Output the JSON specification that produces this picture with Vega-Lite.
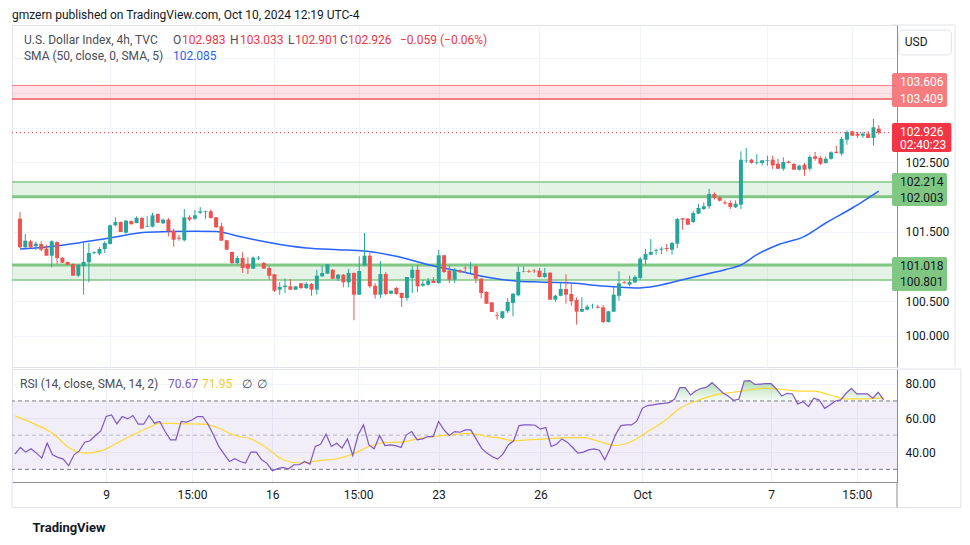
{
"$schema":"https://vega.github.io/schema/vega-lite/v6.json",
"background":"white",
"padding":{"left":10,"top":8,"right":5,"bottom":2},
"spacing":0,
"data":{"values":[{}]},
"config":{"view":{"stroke":"#e0e3eb"},"font":"Roboto","axis":{"labelFont":"Roboto","labelColor":"#131722","labelFontSize":12,"gridColor":"#f0f3fa","gridWidth":1,"tickSize":0,"ticks":false,"title":null}},
"datasets":{
"candles":[
{"i":0,"o":101.686,"h":101.782,"l":101.264,"c":101.274},{"i":1,"o":101.274,"h":101.465,"l":101.254,"c":101.369},{"i":2,"o":101.360,"h":101.383,"l":101.264,"c":101.274},{"i":3,"o":101.288,"h":101.355,"l":101.235,"c":101.326},{"i":4,"o":101.321,"h":101.360,"l":101.216,"c":101.239},{"i":5,"o":101.254,"h":101.311,"l":101.153,"c":101.153},{"i":6,"o":101.153,"h":101.375,"l":100.986,"c":101.360},{"i":7,"o":101.350,"h":101.360,"l":101.038,"c":101.120},{"i":8,"o":101.120,"h":101.134,"l":101.048,"c":101.052},{"i":9,"o":101.062,"h":101.069,"l":101.019,"c":101.023},
{"i":10,"o":101.033,"h":101.043,"l":100.865,"c":100.865},{"i":11,"o":100.865,"h":101.023,"l":100.846,"c":101.023},{"i":12,"o":101.004,"h":101.346,"l":100.591,"c":101.062},{"i":13,"o":101.058,"h":101.336,"l":100.769,"c":101.192},{"i":14,"o":101.188,"h":101.216,"l":101.182,"c":101.202},{"i":15,"o":101.182,"h":101.274,"l":101.159,"c":101.249},{"i":16,"o":101.249,"h":101.360,"l":101.192,"c":101.336},{"i":17,"o":101.321,"h":101.600,"l":101.317,"c":101.591},{"i":18,"o":101.591,"h":101.706,"l":101.576,"c":101.638},{"i":19,"o":101.638,"h":101.645,"l":101.494,"c":101.494},
{"i":20,"o":101.484,"h":101.667,"l":101.470,"c":101.657},{"i":21,"o":101.653,"h":101.660,"l":101.605,"c":101.605},{"i":22,"o":101.624,"h":101.721,"l":101.620,"c":101.696},{"i":23,"o":101.696,"h":101.710,"l":101.542,"c":101.542},{"i":24,"o":101.571,"h":101.721,"l":101.566,"c":101.581},{"i":25,"o":101.571,"h":101.772,"l":101.562,"c":101.735},{"i":26,"o":101.754,"h":101.764,"l":101.628,"c":101.628},{"i":27,"o":101.620,"h":101.686,"l":101.610,"c":101.672},{"i":28,"o":101.672,"h":101.696,"l":101.432,"c":101.509},{"i":29,"o":101.513,"h":101.542,"l":101.282,"c":101.383},
{"i":30,"o":101.412,"h":101.455,"l":101.369,"c":101.398},{"i":31,"o":101.375,"h":101.826,"l":101.360,"c":101.706},{"i":32,"o":101.706,"h":101.735,"l":101.648,"c":101.672},{"i":33,"o":101.686,"h":101.811,"l":101.667,"c":101.735},{"i":34,"o":101.772,"h":101.854,"l":101.754,"c":101.793},{"i":35,"o":101.787,"h":101.801,"l":101.686,"c":101.797},{"i":36,"o":101.793,"h":101.818,"l":101.689,"c":101.696},{"i":37,"o":101.706,"h":101.710,"l":101.552,"c":101.562},{"i":38,"o":101.576,"h":101.628,"l":101.365,"c":101.369},{"i":39,"o":101.375,"h":101.379,"l":101.235,"c":101.239},
{"i":40,"o":101.206,"h":101.213,"l":101.033,"c":101.048},{"i":41,"o":101.048,"h":101.148,"l":101.026,"c":101.120},{"i":42,"o":101.120,"h":101.202,"l":100.904,"c":100.976},{"i":43,"o":101.033,"h":101.130,"l":100.889,"c":100.966},{"i":44,"o":100.966,"h":101.144,"l":100.961,"c":101.124},{"i":45,"o":101.112,"h":101.148,"l":101.091,"c":101.124},{"i":46,"o":101.048,"h":101.062,"l":100.961,"c":100.966},{"i":47,"o":100.976,"h":101.009,"l":100.807,"c":100.865},{"i":48,"o":100.885,"h":100.889,"l":100.630,"c":100.649},{"i":49,"o":100.663,"h":100.774,"l":100.591,"c":100.702},
{"i":50,"o":100.702,"h":100.827,"l":100.616,"c":100.721},{"i":51,"o":100.712,"h":100.817,"l":100.663,"c":100.663},{"i":52,"o":100.663,"h":100.716,"l":100.659,"c":100.712},{"i":53,"o":100.755,"h":100.759,"l":100.673,"c":100.687},{"i":54,"o":100.687,"h":100.774,"l":100.673,"c":100.745},{"i":55,"o":100.745,"h":100.759,"l":100.577,"c":100.663},{"i":56,"o":100.663,"h":100.951,"l":100.591,"c":100.865},{"i":57,"o":100.856,"h":101.009,"l":100.846,"c":100.904},{"i":58,"o":100.894,"h":101.033,"l":100.889,"c":101.029},{"i":59,"o":100.951,"h":100.961,"l":100.817,"c":100.821},
{"i":60,"o":100.821,"h":100.889,"l":100.788,"c":100.879},{"i":61,"o":100.879,"h":100.889,"l":100.697,"c":100.769},{"i":62,"o":100.769,"h":100.966,"l":100.697,"c":100.904},{"i":63,"o":100.904,"h":100.911,"l":100.222,"c":100.591},{"i":64,"o":100.591,"h":101.144,"l":100.587,"c":100.932},{"i":65,"o":101.015,"h":101.480,"l":101.000,"c":101.153},{"i":66,"o":101.153,"h":101.192,"l":100.687,"c":100.712},{"i":67,"o":100.721,"h":100.759,"l":100.533,"c":100.591},{"i":68,"o":100.591,"h":101.076,"l":100.543,"c":100.889},{"i":69,"o":100.889,"h":100.918,"l":100.582,"c":100.601},
{"i":70,"o":100.605,"h":100.649,"l":100.601,"c":100.649},{"i":71,"o":100.687,"h":100.702,"l":100.591,"c":100.601},{"i":72,"o":100.615,"h":100.622,"l":100.414,"c":100.543},{"i":73,"o":100.543,"h":100.846,"l":100.504,"c":100.846},{"i":74,"o":100.832,"h":101.000,"l":100.615,"c":100.951},{"i":75,"o":100.951,"h":101.015,"l":100.630,"c":100.712},{"i":76,"o":100.721,"h":100.807,"l":100.702,"c":100.750},{"i":77,"o":100.735,"h":100.832,"l":100.721,"c":100.793},{"i":78,"o":100.793,"h":100.846,"l":100.759,"c":100.759},{"i":79,"o":100.759,"h":101.239,"l":100.750,"c":101.159},
{"i":80,"o":101.159,"h":101.163,"l":100.904,"c":100.918},{"i":81,"o":100.937,"h":101.015,"l":100.759,"c":100.807},{"i":82,"o":100.807,"h":100.976,"l":100.759,"c":100.951},{"i":83,"o":100.942,"h":100.954,"l":100.904,"c":100.914},{"i":84,"o":100.980,"h":101.000,"l":100.904,"c":100.971},{"i":85,"o":100.971,"h":101.062,"l":100.904,"c":100.980},{"i":86,"o":101.000,"h":101.015,"l":100.759,"c":100.821},{"i":87,"o":100.821,"h":100.832,"l":100.539,"c":100.615},{"i":88,"o":100.630,"h":100.640,"l":100.457,"c":100.461},{"i":89,"o":100.481,"h":100.486,"l":100.342,"c":100.342},
{"i":90,"o":100.294,"h":100.342,"l":100.231,"c":100.284},{"i":91,"o":100.255,"h":100.356,"l":100.241,"c":100.352},{"i":92,"o":100.352,"h":100.543,"l":100.327,"c":100.486},{"i":93,"o":100.471,"h":100.615,"l":100.280,"c":100.605},{"i":94,"o":100.582,"h":101.000,"l":100.568,"c":100.918},{"i":95,"o":100.922,"h":101.000,"l":100.914,"c":100.928},{"i":96,"o":100.932,"h":100.951,"l":100.904,"c":100.922},{"i":97,"o":100.937,"h":100.961,"l":100.904,"c":100.928},{"i":98,"o":100.937,"h":100.976,"l":100.838,"c":100.846},{"i":99,"o":100.846,"h":100.976,"l":100.832,"c":100.904},
{"i":100,"o":100.908,"h":100.914,"l":100.519,"c":100.519},{"i":101,"o":100.519,"h":100.591,"l":100.486,"c":100.576},{"i":102,"o":100.576,"h":100.759,"l":100.568,"c":100.673},{"i":103,"o":100.673,"h":100.885,"l":100.461,"c":100.591},{"i":104,"o":100.601,"h":100.759,"l":100.432,"c":100.496},{"i":105,"o":100.514,"h":100.553,"l":100.159,"c":100.346},{"i":106,"o":100.346,"h":100.558,"l":100.342,"c":100.385},{"i":107,"o":100.375,"h":100.447,"l":100.366,"c":100.418},{"i":108,"o":100.428,"h":100.461,"l":100.389,"c":100.432},{"i":109,"o":100.418,"h":100.447,"l":100.389,"c":100.404},
{"i":110,"o":100.409,"h":100.442,"l":100.183,"c":100.197},{"i":111,"o":100.197,"h":100.360,"l":100.190,"c":100.352},{"i":112,"o":100.346,"h":100.712,"l":100.342,"c":100.591},{"i":113,"o":100.576,"h":100.928,"l":100.504,"c":100.755},{"i":114,"o":100.769,"h":100.784,"l":100.752,"c":100.755},{"i":115,"o":100.735,"h":100.865,"l":100.712,"c":100.774},{"i":116,"o":100.769,"h":100.870,"l":100.759,"c":100.846},{"i":117,"o":100.832,"h":101.134,"l":100.807,"c":101.110},{"i":118,"o":101.095,"h":101.249,"l":101.023,"c":101.177},{"i":119,"o":101.167,"h":101.393,"l":101.159,"c":101.206},
{"i":120,"o":101.225,"h":101.254,"l":101.167,"c":101.235},{"i":121,"o":101.239,"h":101.278,"l":101.177,"c":101.254},{"i":122,"o":101.264,"h":101.321,"l":101.216,"c":101.249},{"i":123,"o":101.239,"h":101.350,"l":101.167,"c":101.336},{"i":124,"o":101.326,"h":101.696,"l":101.264,"c":101.682},{"i":125,"o":101.692,"h":101.696,"l":101.527,"c":101.672},{"i":126,"o":101.686,"h":101.696,"l":101.599,"c":101.599},{"i":127,"o":101.638,"h":101.801,"l":101.624,"c":101.768},{"i":128,"o":101.758,"h":101.898,"l":101.754,"c":101.840},{"i":129,"o":101.826,"h":101.922,"l":101.811,"c":101.865},
{"i":130,"o":101.865,"h":102.114,"l":101.830,"c":102.042},{"i":131,"o":102.042,"h":102.066,"l":101.960,"c":101.984},{"i":132,"o":101.994,"h":102.009,"l":101.934,"c":101.945},{"i":133,"o":101.922,"h":101.951,"l":101.888,"c":101.908},{"i":134,"o":101.912,"h":101.951,"l":101.826,"c":101.855},{"i":135,"o":101.850,"h":101.951,"l":101.840,"c":101.902},{"i":136,"o":101.888,"h":102.657,"l":101.826,"c":102.536},{"i":137,"o":102.522,"h":102.705,"l":102.489,"c":102.528},{"i":138,"o":102.536,"h":102.550,"l":102.478,"c":102.489},{"i":139,"o":102.493,"h":102.618,"l":102.464,"c":102.503},
{"i":140,"o":102.489,"h":102.527,"l":102.450,"c":102.527},{"i":141,"o":102.517,"h":102.594,"l":102.450,"c":102.527},{"i":142,"o":102.536,"h":102.594,"l":102.402,"c":102.455},{"i":143,"o":102.478,"h":102.550,"l":102.402,"c":102.406},{"i":144,"o":102.406,"h":102.571,"l":102.378,"c":102.503},{"i":145,"o":102.507,"h":102.522,"l":102.484,"c":102.489},{"i":146,"o":102.474,"h":102.489,"l":102.392,"c":102.392},{"i":147,"o":102.392,"h":102.464,"l":102.378,"c":102.450},{"i":148,"o":102.464,"h":102.489,"l":102.305,"c":102.392},{"i":149,"o":102.406,"h":102.599,"l":102.378,"c":102.575},
{"i":150,"o":102.585,"h":102.647,"l":102.522,"c":102.550},{"i":151,"o":102.561,"h":102.585,"l":102.460,"c":102.478},{"i":152,"o":102.489,"h":102.585,"l":102.478,"c":102.550},{"i":153,"o":102.550,"h":102.657,"l":102.536,"c":102.643},{"i":154,"o":102.651,"h":102.738,"l":102.628,"c":102.633},{"i":155,"o":102.623,"h":102.863,"l":102.594,"c":102.834},{"i":156,"o":102.824,"h":102.960,"l":102.752,"c":102.935},{"i":157,"o":102.945,"h":102.954,"l":102.878,"c":102.882},{"i":158,"o":102.911,"h":102.935,"l":102.849,"c":102.882},{"i":159,"o":102.882,"h":102.935,"l":102.849,"c":102.911},
{"i":160,"o":102.911,"h":102.945,"l":102.849,"c":102.849},{"i":161,"o":102.849,"h":103.123,"l":102.738,"c":103.003},{"i":162,"o":102.983,"h":103.033,"l":102.901,"c":102.926}
],
"sma":[
{"i":0,"v":101.249},{"i":5,"v":101.278},{"i":11,"v":101.336},{"i":17,"v":101.408},{"i":24,"v":101.490},{"i":33,"v":101.504},{"i":37,"v":101.502},{"i":41,"v":101.437},{"i":47,"v":101.343},{"i":54,"v":101.264},{"i":60,"v":101.239},{"i":65,"v":101.221},{"i":71,"v":101.144},{"i":77,"v":101.023},{"i":83,"v":100.928},{"i":89,"v":100.831},{"i":94,"v":100.784},{"i":98,"v":100.774},{"i":104,"v":100.759},{"i":110,"v":100.716},{"i":116,"v":100.687},{"i":120,"v":100.716},{"i":124,"v":100.788},{"i":129,"v":100.879},{"i":133,"v":100.951},{"i":136,"v":101.019},{"i":139,"v":101.167},{"i":143,"v":101.311},{"i":148,"v":101.432},{"i":152,"v":101.624},{"i":157,"v":101.840},{"i":162,"v":102.085}
],
"rsi":[
{"i":0,"r":38.9},{"i":1,"r":42.8},{"i":2,"r":40.1},{"i":3,"r":42.0},{"i":4,"r":39.5},{"i":5,"r":36.6},{"i":6,"r":45.3},{"i":7,"r":38.5},{"i":8,"r":37.0},{"i":9,"r":36.0},{"i":10,"r":32.1},{"i":11,"r":38.5},{"i":12,"r":40.8},{"i":13,"r":45.9},{"i":14,"r":46.7},{"i":15,"r":49.8},{"i":16,"r":52.5},{"i":17,"r":60.9},{"i":18,"r":61.8},{"i":19,"r":56.6},{"i":20,"r":60.9},{"i":21,"r":59.5},{"i":22,"r":61.5},{"i":23,"r":56.4},{"i":24,"r":56.4},{"i":25,"r":61.5},{"i":26,"r":57.0},{"i":27,"r":58.0},{"i":28,"r":52.1},{"i":29,"r":47.3},{"i":30,"r":47.3},{"i":31,"r":58.0},{"i":32,"r":57.6},{"i":33,"r":58.9},{"i":34,"r":60.9},{"i":35,"r":60.9},{"i":36,"r":56.4},{"i":37,"r":50.2},{"i":38,"r":43.4},{"i":39,"r":38.9},{"i":40,"r":34.6},{"i":41,"r":36.2},{"i":42,"r":34.6},{"i":43,"r":33.7},{"i":44,"r":40.1},{"i":45,"r":40.1},{"i":46,"r":35.6},{"i":47,"r":33.5},{"i":48,"r":29.2},{"i":49,"r":30.4},{"i":50,"r":31.1},{"i":51,"r":30.2},{"i":52,"r":32.7},{"i":53,"r":32.7},{"i":54,"r":34.6},{"i":55,"r":33.1},{"i":56,"r":43.4},{"i":57,"r":44.7},{"i":58,"r":50.6},{"i":59,"r":43.4},{"i":60,"r":45.3},{"i":61,"r":42.4},{"i":62,"r":47.8},{"i":63,"r":38.1},{"i":64,"r":50.2},{"i":65,"r":56.0},{"i":66,"r":44.3},{"i":67,"r":42.0},{"i":68,"r":49.8},{"i":69,"r":43.9},{"i":70,"r":44.3},{"i":71,"r":43.9},{"i":72,"r":42.8},{"i":73,"r":50.2},{"i":74,"r":52.1},{"i":75,"r":47.3},{"i":76,"r":47.8},{"i":77,"r":49.2},{"i":78,"r":49.2},{"i":79,"r":58.0},{"i":80,"r":53.1},{"i":81,"r":49.8},{"i":82,"r":52.1},{"i":83,"r":51.7},{"i":84,"r":53.1},{"i":85,"r":53.1},{"i":86,"r":47.8},{"i":87,"r":42.4},{"i":88,"r":39.5},{"i":89,"r":37.5},{"i":90,"r":36.0},{"i":91,"r":38.9},{"i":92,"r":44.3},{"i":93,"r":46.7},{"i":94,"r":55.6},{"i":95,"r":56.0},{"i":96,"r":56.0},{"i":97,"r":55.8},{"i":98,"r":53.5},{"i":99,"r":54.5},{"i":100,"r":43.4},{"i":101,"r":44.7},{"i":102,"r":47.8},{"i":103,"r":45.9},{"i":104,"r":42.8},{"i":105,"r":39.5},{"i":106,"r":40.1},{"i":107,"r":41.4},{"i":108,"r":42.0},{"i":109,"r":41.2},{"i":110,"r":35.6},{"i":111,"r":42.4},{"i":112,"r":50.2},{"i":113,"r":55.6},{"i":114,"r":56.0},{"i":115,"r":56.0},{"i":116,"r":58.3},{"i":117,"r":65.7},{"i":118,"r":67.3},{"i":119,"r":67.7},{"i":120,"r":68.3},{"i":121,"r":68.6},{"i":122,"r":69.0},{"i":123,"r":71.0},{"i":124,"r":77.8},{"i":125,"r":77.8},{"i":126,"r":73.5},{"i":127,"r":76.0},{"i":128,"r":77.4},{"i":129,"r":78.0},{"i":130,"r":80.7},{"i":131,"r":77.8},{"i":132,"r":74.8},{"i":133,"r":72.9},{"i":134,"r":70.4},{"i":135,"r":71.0},{"i":136,"r":81.7},{"i":137,"r":81.9},{"i":138,"r":79.7},{"i":139,"r":79.9},{"i":140,"r":80.1},{"i":141,"r":80.1},{"i":142,"r":77.0},{"i":143,"r":72.9},{"i":144,"r":74.5},{"i":145,"r":74.1},{"i":146,"r":68.3},{"i":147,"r":69.6},{"i":148,"r":66.7},{"i":149,"r":71.6},{"i":150,"r":70.6},{"i":151,"r":65.7},{"i":152,"r":67.6},{"i":153,"r":70.0},{"i":154,"r":70.6},{"i":155,"r":74.5},{"i":156,"r":77.4},{"i":157,"r":74.1},{"i":158,"r":74.1},{"i":159,"r":74.1},{"i":160,"r":71.6},{"i":161,"r":75.1},{"i":162,"r":70.67}
],
"rsima":[
{"i":0,"m":61.3},{"i":4,"m":56.0},{"i":7,"m":51.1},{"i":10,"m":42.8},{"i":13,"m":39.5},{"i":16,"m":40.8},{"i":19,"m":45.3},{"i":22,"m":50.2},{"i":25,"m":54.5},{"i":27,"m":57.0},{"i":32,"m":56.6},{"i":35,"m":56.4},{"i":38,"m":54.1},{"i":41,"m":49.8},{"i":44,"m":47.8},{"i":47,"m":42.4},{"i":50,"m":35.6},{"i":53,"m":33.7},{"i":57,"m":35.2},{"i":60,"m":36.2},{"i":63,"m":38.9},{"i":66,"m":43.4},{"i":69,"m":45.7},{"i":72,"m":45.9},{"i":75,"m":47.8},{"i":78,"m":49.2},{"i":81,"m":50.2},{"i":85,"m":51.1},{"i":88,"m":49.2},{"i":90,"m":48.6},{"i":93,"m":46.7},{"i":96,"m":47.3},{"i":99,"m":47.8},{"i":103,"m":48.6},{"i":106,"m":48.6},{"i":109,"m":46.3},{"i":112,"m":44.0},{"i":115,"m":46.3},{"i":118,"m":52.1},{"i":121,"m":58.0},{"i":124,"m":65.7},{"i":127,"m":70.0},{"i":131,"m":73.9},{"i":134,"m":75.1},{"i":137,"m":76.4},{"i":140,"m":77.4},{"i":143,"m":76.8},{"i":146,"m":75.8},{"i":149,"m":75.8},{"i":152,"m":73.5},{"i":155,"m":71.2},{"i":158,"m":71.2},{"i":162,"m":71.95}
]
},
"vconcat":[
{
"width":885,"height":342,
"title":{"text":"gmzern published on TradingView.com, Oct 10, 2024 12:19 UTC-4","anchor":"start","frame":"group","fontSize":12,"fontWeight":"normal","font":"Roboto","color":"#131722","offset":3},
"layer":[
{"mark":{"type":"rect","color":"#f23645","opacity":0.14},"encoding":{"y":{"datum":103.606,"type":"quantitative"},"y2":{"datum":103.409}}},
{"mark":{"type":"rule","color":"#f77c80","strokeWidth":1},"encoding":{"y":{"datum":103.606,"type":"quantitative"}}},
{"mark":{"type":"rule","color":"#f77c80","strokeWidth":2},"encoding":{"y":{"datum":103.409,"type":"quantitative"}}},
{"mark":{"type":"rect","color":"#4caf50","opacity":0.15},"encoding":{"y":{"datum":102.214,"type":"quantitative"},"y2":{"datum":102.003}}},
{"mark":{"type":"rule","color":"#81c784","strokeWidth":1.5},"encoding":{"y":{"datum":102.214,"type":"quantitative"}}},
{"mark":{"type":"rule","color":"#81c784","strokeWidth":3},"encoding":{"y":{"datum":102.003,"type":"quantitative"}}},
{"mark":{"type":"rect","color":"#4caf50","opacity":0.15},"encoding":{"y":{"datum":101.018,"type":"quantitative"},"y2":{"datum":100.801}}},
{"mark":{"type":"rule","color":"#81c784","strokeWidth":3},"encoding":{"y":{"datum":101.018,"type":"quantitative"}}},
{"mark":{"type":"rule","color":"#81c784","strokeWidth":1.5},"encoding":{"y":{"datum":100.801,"type":"quantitative"}}},
{"mark":{"type":"rule","color":"#f23645","strokeWidth":1,"strokeDash":[1,3]},"encoding":{"y":{"datum":102.926,"type":"quantitative"}}},
{"data":{"name":"sma"},"mark":{"type":"line","color":"#2962ff","strokeWidth":1.5,"interpolate":"monotone"},
 "encoding":{
  "x":{"field":"i","type":"quantitative","scale":{"domain":[-0.56,164.5],"nice":false,"zero":false},"axis":{"values":[17,33,48,64,79,98,117,141,157],"labels":false,"domain":false,"grid":true,"title":null}},
  "y":{"field":"v","type":"quantitative","scale":{"domain":[99.549,104.477],"nice":false,"zero":false},"axis":{"orient":"right","values":[100,100.5,101,101.5,102,102.5,103,103.5,104],"format":".3f","labelExpr":"(datum.value==100||datum.value==100.5||datum.value==101.5||datum.value==102.5) ? datum.label : ''","grid":true,"domain":true,"domainColor":"#8a8d96","labelPadding":8,"title":null}}}},
{"data":{"name":"candles"},"mark":{"type":"rule","strokeWidth":1},"encoding":{"x":{"field":"i","type":"quantitative"},"y":{"field":"l","type":"quantitative"},"y2":{"field":"h"},"color":{"condition":{"test":"datum.c >= datum.o","value":"#26a69a"},"value":"#ef5350"}}},
{"data":{"name":"candles"},"mark":{"type":"bar","size":4},"encoding":{"x":{"field":"i","type":"quantitative"},"y":{"field":"o","type":"quantitative"},"y2":{"field":"c"},"color":{"condition":{"test":"datum.c >= datum.o","value":"#26a69a"},"value":"#ef5350"}}},
{"mark":{"type":"text","align":"left","baseline":"middle","dx":4,"fontSize":12,"color":"#4a4d57"},"encoding":{"x":{"datum":0,"type":"quantitative"},"y":{"datum":104.262,"type":"quantitative"},"text":{"value":"U.S. Dollar Index, 4h, TVC"}}},
{"mark":{"type":"text","align":"left","baseline":"middle","dx":153,"fontSize":12,"color":"#4a4d57"},"encoding":{"x":{"datum":0,"type":"quantitative"},"y":{"datum":104.262,"type":"quantitative"},"text":{"value":"O"}}},
{"mark":{"type":"text","align":"left","baseline":"middle","dx":162,"fontSize":12,"color":"#f23645"},"encoding":{"x":{"datum":0,"type":"quantitative"},"y":{"datum":104.262,"type":"quantitative"},"text":{"value":"102.983"}}},
{"mark":{"type":"text","align":"left","baseline":"middle","dx":210,"fontSize":12,"color":"#4a4d57"},"encoding":{"x":{"datum":0,"type":"quantitative"},"y":{"datum":104.262,"type":"quantitative"},"text":{"value":"H"}}},
{"mark":{"type":"text","align":"left","baseline":"middle","dx":220,"fontSize":12,"color":"#f23645"},"encoding":{"x":{"datum":0,"type":"quantitative"},"y":{"datum":104.262,"type":"quantitative"},"text":{"value":"103.033"}}},
{"mark":{"type":"text","align":"left","baseline":"middle","dx":268,"fontSize":12,"color":"#4a4d57"},"encoding":{"x":{"datum":0,"type":"quantitative"},"y":{"datum":104.262,"type":"quantitative"},"text":{"value":"L"}}},
{"mark":{"type":"text","align":"left","baseline":"middle","dx":275,"fontSize":12,"color":"#f23645"},"encoding":{"x":{"datum":0,"type":"quantitative"},"y":{"datum":104.262,"type":"quantitative"},"text":{"value":"102.901"}}},
{"mark":{"type":"text","align":"left","baseline":"middle","dx":320,"fontSize":12,"color":"#4a4d57"},"encoding":{"x":{"datum":0,"type":"quantitative"},"y":{"datum":104.262,"type":"quantitative"},"text":{"value":"C"}}},
{"mark":{"type":"text","align":"left","baseline":"middle","dx":328,"fontSize":12,"color":"#f23645"},"encoding":{"x":{"datum":0,"type":"quantitative"},"y":{"datum":104.262,"type":"quantitative"},"text":{"value":"102.926"}}},
{"mark":{"type":"text","align":"left","baseline":"middle","dx":380,"fontSize":12,"color":"#f23645"},"encoding":{"x":{"datum":0,"type":"quantitative"},"y":{"datum":104.262,"type":"quantitative"},"text":{"value":"−0.059 (−0.06%)"}}},
{"mark":{"type":"text","align":"left","baseline":"middle","dx":4,"fontSize":12,"color":"#4a4d57"},"encoding":{"x":{"datum":0,"type":"quantitative"},"y":{"datum":104.030,"type":"quantitative"},"text":{"value":"SMA (50, close, 0, SMA, 5)"}}},
{"mark":{"type":"text","align":"left","baseline":"middle","dx":153,"fontSize":12,"color":"#2962ff"},"encoding":{"x":{"datum":0,"type":"quantitative"},"y":{"datum":104.030,"type":"quantitative"},"text":{"value":"102.085"}}},
{"mark":{"type":"rule","color":"#e0e3eb","strokeWidth":1},"encoding":{"x":{"datum":164.5,"type":"quantitative"},"x2":{"datum":176.4},"y":{"datum":104.477,"type":"quantitative"}}},
{"mark":{"type":"rule","color":"#e0e3eb","strokeWidth":1},"encoding":{"x":{"datum":176.4,"type":"quantitative"},"y":{"datum":104.477,"type":"quantitative"},"y2":{"datum":99.549}}},
{"mark":{"type":"rect","fill":"white","stroke":"#e0e3eb","cornerRadius":4},"encoding":{"x":{"datum":165.8,"type":"quantitative"},"x2":{"datum":175.7},"y":{"datum":104.405,"type":"quantitative"},"y2":{"datum":104.045}}},
{"mark":{"type":"text","align":"left","baseline":"middle","fontSize":12,"color":"#131722"},"encoding":{"x":{"datum":166.9,"type":"quantitative"},"y":{"datum":104.225,"type":"quantitative"},"text":{"value":"USD"}}},
{"mark":{"type":"rect","color":"#f77c80","cornerRadius":2},"encoding":{"x":{"datum":164.5,"type":"quantitative"},"x2":{"datum":174.9},"y":{"datum":103.785,"type":"quantitative"},"y2":{"datum":103.295}}},
{"mark":{"type":"rect","color":"#f23645","cornerRadius":2},"encoding":{"x":{"datum":164.5,"type":"quantitative"},"x2":{"datum":175.7},"y":{"datum":103.065,"type":"quantitative"},"y2":{"datum":102.647}}},
{"mark":{"type":"rect","color":"#81c784","cornerRadius":2},"encoding":{"x":{"datum":164.5,"type":"quantitative"},"x2":{"datum":174.9},"y":{"datum":102.344,"type":"quantitative"},"y2":{"datum":101.869}}},
{"mark":{"type":"rect","color":"#81c784","cornerRadius":2},"encoding":{"x":{"datum":164.5,"type":"quantitative"},"x2":{"datum":174.9},"y":{"datum":101.134,"type":"quantitative"},"y2":{"datum":100.644}}},
{"mark":{"type":"text","align":"left","baseline":"middle","fontSize":12,"color":"white"},"encoding":{"x":{"datum":166.0,"type":"quantitative"},"y":{"datum":103.656,"type":"quantitative"},"text":{"value":"103.606"}}},
{"mark":{"type":"text","align":"left","baseline":"middle","fontSize":12,"color":"white"},"encoding":{"x":{"datum":166.0,"type":"quantitative"},"y":{"datum":103.411,"type":"quantitative"},"text":{"value":"103.409"}}},
{"mark":{"type":"text","align":"left","baseline":"middle","fontSize":12,"color":"white"},"encoding":{"x":{"datum":166.0,"type":"quantitative"},"y":{"datum":102.928,"type":"quantitative"},"text":{"value":"102.926"}}},
{"mark":{"type":"text","align":"left","baseline":"middle","fontSize":12,"color":"white"},"encoding":{"x":{"datum":166.0,"type":"quantitative"},"y":{"datum":102.748,"type":"quantitative"},"text":{"value":"02:40:23"}}},
{"mark":{"type":"text","align":"left","baseline":"middle","fontSize":12,"color":"#131722"},"encoding":{"x":{"datum":166.0,"type":"quantitative"},"y":{"datum":102.215,"type":"quantitative"},"text":{"value":"102.214"}}},
{"mark":{"type":"text","align":"left","baseline":"middle","fontSize":12,"color":"#131722"},"encoding":{"x":{"datum":166.0,"type":"quantitative"},"y":{"datum":101.984,"type":"quantitative"},"text":{"value":"102.003"}}},
{"mark":{"type":"text","align":"left","baseline":"middle","fontSize":12,"color":"#131722"},"encoding":{"x":{"datum":166.0,"type":"quantitative"},"y":{"datum":101.000,"type":"quantitative"},"text":{"value":"101.018"}}},
{"mark":{"type":"text","align":"left","baseline":"middle","fontSize":12,"color":"#131722"},"encoding":{"x":{"datum":166.0,"type":"quantitative"},"y":{"datum":100.770,"type":"quantitative"},"text":{"value":"100.801"}}}
]
},
{
"width":885,"height":113,
"layer":[
{"mark":{"type":"rect","color":"#7e57c2","opacity":0.1},"encoding":{"y":{"datum":70,"type":"quantitative"},"y2":{"datum":30}}},
{"data":{"name":"rsi"},"mark":{"type":"area","color":{"gradient":"linear","x1":0,"y1":0,"x2":0,"y2":1,"stops":[{"offset":0,"color":"rgba(76,175,80,0.45)"},{"offset":0.226,"color":"rgba(76,175,80,0.04)"},{"offset":0.23,"color":"rgba(76,175,80,0)"},{"offset":1,"color":"rgba(76,175,80,0)"}]}},
 "encoding":{"x":{"field":"i","type":"quantitative","scale":{"domain":[-0.56,164.5],"nice":false,"zero":false},
   "axis":{"values":[17,33,48,64,79,98,117,141,157],"labelExpr":"datum.value==17?'9':datum.value==33?'15:00':datum.value==48?'16':datum.value==64?'15:00':datum.value==79?'23':datum.value==98?'26':datum.value==117?'Oct':datum.value==141?'7':'15:00'","grid":true,"domain":true,"domainColor":"#8a8d96","labelPadding":7,"labelFontSize":12,"title":"TradingView","titleAnchor":"start","titleAlign":"left","titleX":20,"titleY":45,"titleBaseline":"middle","titleFontSize":13,"titleFontWeight":"bold","titleColor":"#131722","titleFont":"Roboto"}},
  "y":{"field":"r","type":"quantitative","scale":{"domain":[22.6,88.7],"nice":false,"zero":false},"axis":{"orient":"right","values":[40,60,80],"format":".2f","grid":true,"domain":true,"domainColor":"#8a8d96","labelPadding":8,"title":null}},
  "y2":{"datum":70}}},
{"mark":{"type":"rule","color":"#787b86","strokeDash":[4,3],"strokeWidth":1},"encoding":{"y":{"datum":70,"type":"quantitative"}}},
{"mark":{"type":"rule","color":"#787b86","strokeDash":[4,3],"strokeWidth":1},"encoding":{"y":{"datum":30,"type":"quantitative"}}},
{"mark":{"type":"rule","color":"#787b86","opacity":0.5,"strokeDash":[4,3],"strokeWidth":1},"encoding":{"y":{"datum":50,"type":"quantitative"}}},
{"data":{"name":"rsima"},"mark":{"type":"line","color":"#fdd835","strokeWidth":1.2,"interpolate":"monotone"},"encoding":{"x":{"field":"i","type":"quantitative"},"y":{"field":"m","type":"quantitative"}}},
{"data":{"name":"rsi"},"mark":{"type":"line","color":"#7e57c2","strokeWidth":1.2},"encoding":{"x":{"field":"i","type":"quantitative"},"y":{"field":"r","type":"quantitative"}}},
{"mark":{"type":"rule","color":"#e0e3eb","strokeWidth":1},"encoding":{"x":{"datum":164.5,"type":"quantitative"},"x2":{"datum":176.4},"y":{"datum":88.7,"type":"quantitative"}}},
{"mark":{"type":"rule","color":"#e0e3eb","strokeWidth":1},"encoding":{"x":{"datum":176.4,"type":"quantitative"},"y":{"datum":88.7,"type":"quantitative"},"y2":{"datum":7.6}}},
{"mark":{"type":"rule","color":"#e0e3eb","strokeWidth":1},"encoding":{"x":{"datum":-0.56,"type":"quantitative"},"y":{"datum":22.6,"type":"quantitative"},"y2":{"datum":7.6}}},
{"mark":{"type":"rule","color":"#e0e3eb","strokeWidth":1},"encoding":{"x":{"datum":-0.56,"type":"quantitative"},"x2":{"datum":176.4},"y":{"datum":7.6,"type":"quantitative"}}},
{"mark":{"type":"rule","color":"#8a8d96","strokeWidth":1},"encoding":{"x":{"datum":164.5,"type":"quantitative"},"y":{"datum":22.6,"type":"quantitative"},"y2":{"datum":7.6}}},
{"mark":{"type":"text","align":"left","baseline":"middle","dx":5,"fontSize":12,"color":"#4a4d57"},"encoding":{"x":{"datum":0,"type":"quantitative"},"y":{"datum":79.9,"type":"quantitative"},"text":{"value":"RSI (14, close, SMA, 14, 2)"}}},
{"mark":{"type":"text","align":"left","baseline":"middle","dx":153,"fontSize":12,"color":"#7e57c2"},"encoding":{"x":{"datum":0,"type":"quantitative"},"y":{"datum":79.9,"type":"quantitative"},"text":{"value":"70.67"}}},
{"mark":{"type":"text","align":"left","baseline":"middle","dx":187,"fontSize":12,"color":"#f2cc1f"},"encoding":{"x":{"datum":0,"type":"quantitative"},"y":{"datum":79.9,"type":"quantitative"},"text":{"value":"71.95"}}},
{"mark":{"type":"text","align":"left","baseline":"middle","dx":227,"fontSize":12,"color":"#4a4d57"},"encoding":{"x":{"datum":0,"type":"quantitative"},"y":{"datum":79.9,"type":"quantitative"},"text":{"value":"∅"}}},
{"mark":{"type":"text","align":"left","baseline":"middle","dx":242,"fontSize":12,"color":"#4a4d57"},"encoding":{"x":{"datum":0,"type":"quantitative"},"y":{"datum":79.9,"type":"quantitative"},"text":{"value":"∅"}}}
]
}
]
}
